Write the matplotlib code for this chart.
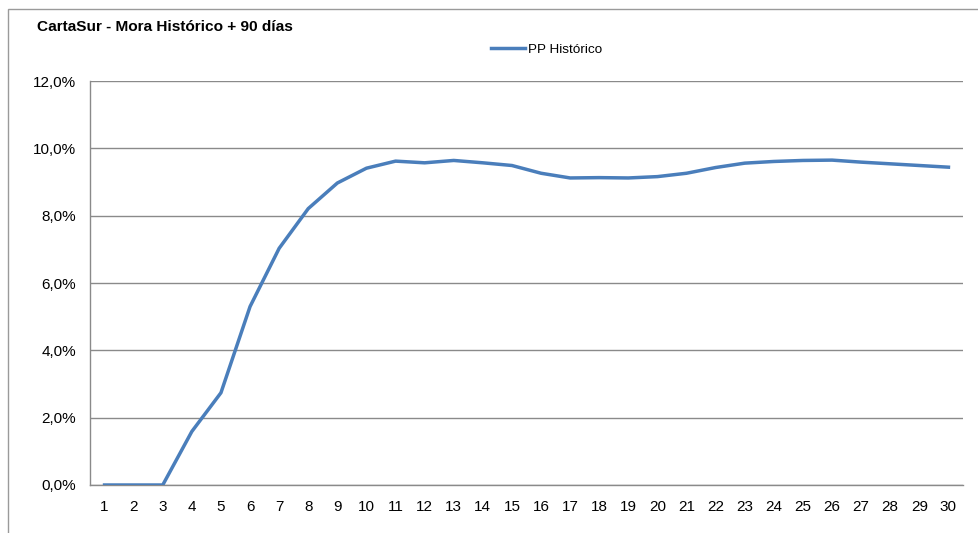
#!/usr/bin/env python3
"""CartaSur - Mora Histórico + 90 días line chart."""
import matplotlib

matplotlib.use("Agg")
import matplotlib.pyplot as plt
from matplotlib.patches import Rectangle
from matplotlib.ticker import FuncFormatter, MultipleLocator

periods = list(range(1, 31))
pp_historico = [
    0.00, 0.00, 0.00, 1.59, 2.74, 5.30, 7.03, 8.21, 8.97, 9.41,
    9.62, 9.57, 9.64, 9.57, 9.49, 9.26, 9.12, 9.13, 9.12, 9.16,
    9.26, 9.43, 9.56, 9.61, 9.64, 9.65, 9.59, 9.54, 9.49, 9.44,
]
series_label = "PP Histórico"
title = "CartaSur - Mora Histórico + 90 días"

plt.rcParams["font.family"] = ["Liberation Sans", "DejaVu Sans"]

W, H = 979, 533
fig = plt.figure(figsize=(W / 100, H / 100), dpi=100)

# outer chart frame (cut off at right and bottom like the source)
fig.add_artist(Rectangle((8.5 / W, -0.1), 1.2, 1.1 - 9.5 / H,
                         transform=fig.transFigure, fill=False,
                         edgecolor="#9a9a9a", linewidth=1.0))

ax = fig.add_axes([90 / W, 1 - 485 / H, (963 - 90) / W, (485 - 81) / H])
x = list(range(len(periods)))
line, = ax.plot(x, pp_historico, color="#4a7ebb", linewidth=2.5,
                solid_joinstyle="round", label=series_label, zorder=3)

ax.set_xlim(-0.5, len(periods) - 0.5)
ax.set_ylim(0, 12)
ax.yaxis.set_major_locator(MultipleLocator(2))
ax.yaxis.set_major_formatter(FuncFormatter(lambda v, _: f"{v:.1f}%".replace(".", ",")))
ax.set_xticks(x, [str(p) for p in periods])
ax.tick_params(axis="both", length=0, labelsize=11, colors="black")
ax.tick_params(axis="x", pad=11)
ax.tick_params(axis="y", pad=10)

ax.grid(axis="y", color="#8a8a8a", linewidth=1.0)
ax.set_axisbelow(True)
for side in ("top", "right"):
    ax.spines[side].set_visible(False)
for side in ("left", "bottom"):
    ax.spines[side].set_color("#8a8a8a")
    ax.spines[side].set_linewidth(1.0)

fig.text(37 / W, 1 - 27 / H, title, fontsize=11.1, fontweight="bold",
         ha="left", va="center")

fig.legend(handles=[line], loc="center left",
           bbox_to_anchor=(491 / W, 1 - 50 / H), frameon=False,
           fontsize=9.7, handlelength=2.5, handletextpad=0.25,
           borderpad=0, borderaxespad=0)

fig.savefig("out.png", dpi=100)
plt.close(fig)
